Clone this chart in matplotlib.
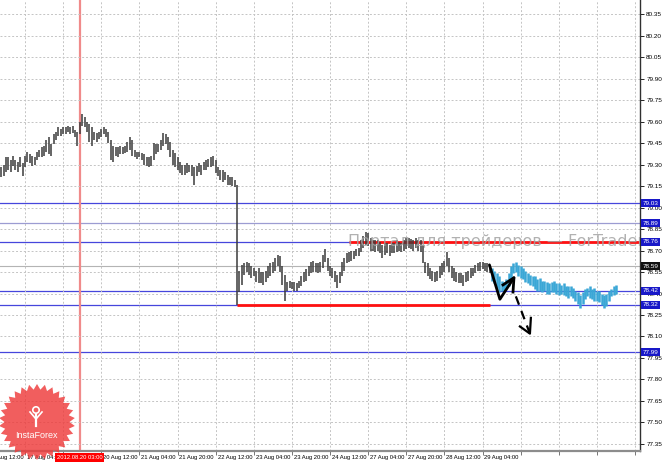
import numpy as np
import matplotlib.pyplot as plt
from matplotlib.transforms import blended_transform_factory
from matplotlib.patches import Polygon, Circle

plt.rcParams['font.family'] = ['Liberation Sans', 'DejaVu Sans']

# --- H1 bars, USDJPY, bar index 6..211 (history) ---
first_bar = 6
bar_high = [
    79.28, 79.30, 79.35, 79.35, 79.33, 79.36, 79.33, 79.32, 79.35, 79.31,
    79.36, 79.39, 79.37, 79.36, 79.35, 79.39, 79.40, 79.42, 79.43, 79.47,
    79.49, 79.44, 79.51, 79.53, 79.56, 79.55, 79.56, 79.56, 79.57, 79.56,
    79.57, 79.54, 79.53, 79.60, 79.65, 79.63, 79.60, 79.58, 79.56, 79.53,
    79.52, 79.53, 79.55, 79.56, 79.55, 79.53, 79.47, 79.43, 79.42, 79.42,
    79.43, 79.42, 79.43, 79.46, 79.49, 79.47, 79.40, 79.39, 79.39, 79.38,
    79.37, 79.35, 79.35, 79.36, 79.45, 79.44, 79.44, 79.47, 79.52, 79.51,
    79.49, 79.46, 79.40, 79.38, 79.35, 79.32, 79.30, 79.30, 79.31, 79.30,
    79.30, 79.28, 79.29, 79.31, 79.30, 79.32, 79.33, 79.34, 79.35, 79.36,
    79.33, 79.28, 79.26, 79.26, 79.25, 79.23, 79.21, 79.21, 79.19, 79.16,
    78.56, 78.60, 78.61, 78.62, 78.61, 78.59, 78.58, 78.56, 78.58, 78.55,
    78.55, 78.56, 78.59, 78.61, 78.62, 78.65, 78.67, 78.66, 78.59, 78.53,
    78.48, 78.49, 78.48, 78.48, 78.47, 78.49, 78.52, 78.55, 78.57, 78.59,
    78.62, 78.63, 78.61, 78.61, 78.62, 78.67, 78.71, 78.65, 78.59, 78.58,
    78.56, 78.53, 78.55, 78.62, 78.65, 78.68, 78.69, 78.70, 78.70, 78.71,
    78.72, 78.77, 78.80, 78.83, 78.82, 78.79, 78.77, 78.77, 78.77, 78.76,
    78.74, 78.75, 78.75, 78.74, 78.75, 78.75, 78.77, 78.76, 78.75, 78.77,
    78.79, 78.79, 78.78, 78.77, 78.79, 78.77, 78.77, 78.74, 78.62, 78.61,
    78.58, 78.56, 78.55, 78.56, 78.59, 78.61, 78.63, 78.69, 78.65, 78.59,
    78.58, 78.55, 78.54, 78.54, 78.53, 78.55, 78.56, 78.58, 78.58, 78.60,
    78.61, 78.62, 78.62, 78.61, 78.61, 78.59,
]
bar_low = [
    79.21, 79.22, 79.25, 79.26, 79.25, 79.29, 79.26, 79.25, 79.28, 79.22,
    79.28, 79.32, 79.31, 79.29, 79.30, 79.33, 79.35, 79.35, 79.36, 79.39,
    79.37, 79.36, 79.44, 79.47, 79.50, 79.50, 79.51, 79.51, 79.53, 79.51,
    79.52, 79.49, 79.43, 79.51, 79.57, 79.56, 79.53, 79.46, 79.43, 79.47,
    79.46, 79.48, 79.49, 79.51, 79.49, 79.45, 79.33, 79.32, 79.36, 79.35,
    79.37, 79.37, 79.38, 79.39, 79.40, 79.36, 79.35, 79.34, 79.35, 79.33,
    79.30, 79.29, 79.28, 79.29, 79.33, 79.37, 79.39, 79.40, 79.43, 79.44,
    79.40, 79.35, 79.30, 79.28, 79.26, 79.24, 79.23, 79.23, 79.24, 79.25,
    79.22, 79.16, 79.22, 79.25, 79.23, 79.26, 79.26, 79.28, 79.28, 79.29,
    79.24, 79.22, 79.19, 79.18, 79.19, 79.16, 79.16, 79.15, 79.14, 78.32,
    78.41, 78.46, 78.53, 78.55, 78.53, 78.51, 78.52, 78.48, 78.47, 78.47,
    78.46, 78.48, 78.51, 78.52, 78.54, 78.56, 78.59, 78.55, 78.46, 78.35,
    78.42, 78.44, 78.43, 78.42, 78.42, 78.44, 78.45, 78.48, 78.49, 78.52,
    78.54, 78.55, 78.55, 78.54, 78.55, 78.58, 78.62, 78.56, 78.52, 78.51,
    78.48, 78.44, 78.47, 78.52, 78.56, 78.61, 78.62, 78.63, 78.64, 78.66,
    78.66, 78.69, 78.72, 78.74, 78.73, 78.70, 78.70, 78.69, 78.70, 78.68,
    78.65, 78.67, 78.68, 78.66, 78.68, 78.68, 78.69, 78.70, 78.69, 78.70,
    78.71, 78.72, 78.71, 78.70, 78.72, 78.70, 78.69, 78.61, 78.54, 78.52,
    78.50, 78.49, 78.48, 78.49, 78.51, 78.53, 78.55, 78.59, 78.55, 78.51,
    78.49, 78.48, 78.47, 78.47, 78.45, 78.48, 78.49, 78.51, 78.52, 78.54,
    78.56, 78.56, 78.57, 78.56, 78.55, 78.54,
]

# --- forecast bars (cyan), bar index 212..264 ---
fc_first = 212
fc_high = [
    78.58, 78.56, 78.54, 78.52, 78.49, 78.48, 78.50, 78.54, 78.59, 78.61,
    78.62, 78.60, 78.59, 78.58, 78.56, 78.54, 78.53, 78.52, 78.52, 78.50,
    78.51, 78.49, 78.49, 78.48, 78.47, 78.48, 78.49, 78.47, 78.47, 78.46,
    78.47, 78.45, 78.45, 78.45, 78.44, 78.42, 78.41, 78.39, 78.41, 78.43,
    78.44, 78.45, 78.43, 78.44, 78.42, 78.42, 78.40, 78.39, 78.40, 78.42,
    78.43, 78.45, 78.46,
]
fc_low = [
    78.49, 78.47, 78.44, 78.41, 78.42, 78.42, 78.44, 78.45, 78.50, 78.54,
    78.55, 78.52, 78.51, 78.50, 78.48, 78.47, 78.46, 78.45, 78.43, 78.42,
    78.42, 78.41, 78.42, 78.40, 78.40, 78.41, 78.41, 78.40, 78.39, 78.40,
    78.39, 78.38, 78.37, 78.38, 78.37, 78.35, 78.33, 78.30, 78.33, 78.36,
    78.38, 78.37, 78.36, 78.35, 78.35, 78.34, 78.32, 78.30, 78.31, 78.35,
    78.38, 78.39, 78.40,
]

# horizontal levels
levels = [79.03, 78.89, 78.76, 78.42, 78.32, 77.99]
level_colors = ['#4646DC', '#9C9CD2', '#4646DC', '#4646DC', '#4646DC', '#4646DC']
bid_price = 78.59
red_support = (78.32, 105, 211)       # level, from bar, to bar
red_resist = (78.76, 152, 274.1)
marked_bar = 39                       # 2012.08.20 03:00
marked_label = '2012.08.20 03:00'

# drawn arrows (bar index, price)
solid_path = [(210.9, 78.60), (215.3, 78.36), (221.2, 78.51)]
solid_head = [(216.6, 78.46), (221.2, 78.51), (220.8, 78.41)]
dashed_path = [(222.0, 78.38), (227.9, 78.12)]
dashed_head = [(223.7, 78.17), (227.9, 78.12), (228.3, 78.23)]

# axis labels
price_ticks = [80.35, 80.20, 80.05, 79.90, 79.75, 79.60, 79.45, 79.30, 79.15, 79.00, 78.85,
               78.70, 78.55, 78.40, 78.25, 78.10, 77.95, 77.80, 77.65, 77.50, 77.35]
# 17 Aug 20:00 sits under the red cursor label and is not shown
time_ticks = [0, 16, 48, 64, 80, 96, 112, 128, 144, 160, 176, 192, 208]
time_labels = ['16 Aug 12:00', '17 Aug 04:00', '20 Aug 12:00', '21 Aug 04:00',
               '21 Aug 20:00', '22 Aug 12:00', '23 Aug 04:00', '23 Aug 20:00', '24 Aug 12:00',
               '27 Aug 04:00', '27 Aug 20:00', '28 Aug 12:00', '29 Aug 04:00']
grid_ticks = list(range(16, 273, 16))

W, H = 665, 463
fig = plt.figure(figsize=(W / 100, H / 100), dpi=100)
ax = fig.add_axes([0, 12 / H, 640 / W, 451 / H])
ax.set_xlim(5.5, 274.1)
ax.set_ylim(77.301, 80.448)

# grid
ax.set_xticks(grid_ticks)
ax.set_yticks(price_ticks)
ax.grid(True, linestyle=(0, (2, 2)), color='#C4C4C4', linewidth=0.7, zorder=0)
ax.yaxis.tick_right()
ax.tick_params(axis='y', labelsize=4.6, length=3, width=0.6, pad=1.5, colors='black')
ax.tick_params(axis='x', length=3, width=0.6, labelbottom=False, color='#606060')
ax.set_yticklabels([f'{v:.2f}' for v in price_ticks])
for side in ['top', 'left']:
    ax.spines[side].set_visible(False)
ax.spines['right'].set_color('#303030')
ax.spines['right'].set_linewidth(1.0)
ax.spines['bottom'].set_color('#8C8C8C')
ax.spines['bottom'].set_linewidth(1.6)

# level lines
for lv, c in zip(levels, level_colors):
    ax.axhline(lv, color=c, lw=0.9, zorder=1)
ax.axhline(bid_price, color='#B4B4B4', lw=0.8, zorder=1)
ax.hlines(red_support[0], red_support[1], red_support[2], color='#FF1010', lw=2, zorder=2)
ax.hlines(red_resist[0], red_resist[1], red_resist[2], color='#FF1010', lw=2, zorder=2)
ax.axvline(marked_bar, color='#F08A8A', lw=1.6, zorder=1)

# bars
idx = np.arange(first_bar, first_bar + len(bar_high))
ax.vlines(idx, bar_low, bar_high, color='#3A3A3A', lw=1.1, zorder=3)
fidx = np.arange(fc_first, fc_first + len(fc_high))
ax.vlines(fidx, fc_low, fc_high, color='#3BA7D6', lw=1.8, zorder=3)

# hand-drawn arrows
sx, sy = zip(*solid_path)
ax.plot(sx, sy, color='black', lw=2, zorder=5, solid_capstyle='round')
hx, hy = zip(*solid_head)
ax.plot(hx, hy, color='black', lw=2, zorder=5)
dx, dy = zip(*dashed_path)
ax.plot(dx, dy, color='black', lw=1.6, ls=(0, (4, 3)), zorder=5)
hx, hy = zip(*dashed_head)
ax.plot(hx, hy, color='black', lw=1.6, zorder=5)

# watermark
ax.text(151.5, 78.765, 'Портал для трейдеров — ForTrader.ru', fontsize=11.5,
        family=['DejaVu Sans'], color='#A4A4A4', alpha=0.85, va='center', ha='left',
        zorder=6, clip_on=True)

# right-side price boxes
ty = blended_transform_factory(ax.transAxes, ax.transData)
for lv in levels:
    ax.text(1.004, lv, f'{lv:.2f}', transform=ty, fontsize=4.6, color='white', va='center',
            ha='left', clip_on=False, zorder=8,
            bbox=dict(boxstyle='square,pad=0.25', fc='#1818C8', ec='none'))
ax.text(1.004, bid_price, f'{bid_price:.2f}', transform=ty, fontsize=4.6, color='white',
        va='center', ha='left', clip_on=False, zorder=8,
        bbox=dict(boxstyle='square,pad=0.25', fc='#101010', ec='none'))

# time labels
tx = blended_transform_factory(ax.transData, ax.transAxes)
for t, lab in zip(time_ticks, time_labels):
    ax.text(t + 0.8, -6.5 / 451, lab, transform=tx, fontsize=4.2, color='black',
            va='center', ha='left', clip_on=False)
ax.text(marked_bar, -6.5 / 451, marked_label, transform=tx, fontsize=4.2, color='white',
        va='center', ha='center', clip_on=False, zorder=9,
        bbox=dict(boxstyle='square,pad=0.3', fc='#FF0000', ec='none'))

# InstaForex badge (pixel overlay)
ov = fig.add_axes([0, 0, 1, 1])
ov.set_xlim(0, W)
ov.set_ylim(H, 0)
ov.axis('off')
ang = np.linspace(0, 2 * np.pi, 61)[:-1]
rad = np.where(np.arange(60) % 2 == 0, 38, 32.5)
ov.add_patch(Polygon(np.c_[37 + rad * np.sin(ang), 422 - rad * np.cos(ang)],
                     closed=True, fc='#EE3A3A', ec='none', alpha=0.82))
ov.add_patch(Circle((36, 410), 3.2, fc='none', ec='white', lw=1.2))
ov.plot([36, 36], [414, 426], color='white', lw=1.6)
ov.plot([30, 36, 42], [412, 419, 412], color='white', lw=1.2)
ov.text(36, 435, 'InstaForex', fontsize=6.5, color='white', ha='center', va='center')

fig.savefig('out.png', dpi=100, facecolor='white')
